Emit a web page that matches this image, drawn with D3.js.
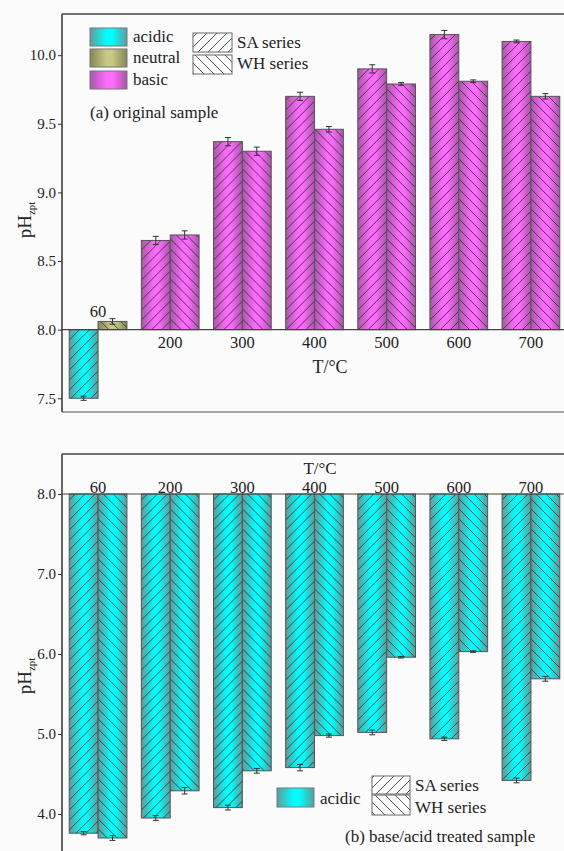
<!DOCTYPE html>
<html>
<head>
<meta charset="utf-8">
<script src="https://cdn.jsdelivr.net/npm/d3@7"></script>
<style>
  body { margin: 0; background: #fbfbfb; }
  svg { display: block; }
</style>
</head>
<body>
<div id="chart"></div>
<script>
const temps = ["60", "200", "300", "400", "500", "600", "700"];
const series = ["SA", "WH"];

// (a) original sample
const topSA = [7.50, 8.65, 9.37, 9.70, 9.90, 10.15, 10.10];
const topSAerr = [0.015, 0.03, 0.03, 0.03, 0.03, 0.03, 0.01];
const topWH = [8.06, 8.69, 9.30, 9.46, 9.79, 9.81, 9.70];
const topWHerr = [0.02, 0.03, 0.03, 0.02, 0.01, 0.01, 0.02];
const topSAkind = ["acidic", "basic", "basic", "basic", "basic", "basic", "basic"];
const topWHkind = ["neutral", "basic", "basic", "basic", "basic", "basic", "basic"];
const topTicks = [7.5, 8.0, 8.5, 9.0, 9.5, 10.0];

// (b) base/acid treated sample
const botSA = [3.76, 3.95, 4.08, 4.58, 5.02, 4.94, 4.42];
const botSAerr = [0.02, 0.03, 0.03, 0.04, 0.03, 0.02, 0.03];
const botWH = [3.70, 4.29, 4.54, 4.98, 5.96, 6.03, 5.69];
const botWHerr = [0.03, 0.04, 0.03, 0.02, 0.01, 0.01, 0.03];
const botTicks = [4.0, 5.0, 6.0, 7.0, 8.0];

const kinds = ["acidic", "neutral", "basic"];
const shades = {
  acidic:  {edge: "#5e9c9c", mid: "#00ffff"},
  neutral: {edge: "#85855a", mid: "#c9c985"},
  basic:   {edge: "#a957a9", mid: "#ff6bff"}
};

const W = 564, H = 851;
const svg = d3.select('#chart').append('svg')
  .attr('width', W).attr('height', H)
  .attr('font-family', '"Liberation Serif", "Times New Roman", serif');

const defs = svg.append('defs');
kinds.forEach(k => {
  const g = defs.append('linearGradient').attr('id', 'grad-' + k)
    .attr('x1', '0%').attr('x2', '100%').attr('y1', '0%').attr('y2', '0%');
  g.append('stop').attr('offset', '0%').attr('stop-color', shades[k].edge);
  g.append('stop').attr('offset', '45%').attr('stop-color', shades[k].mid);
  g.append('stop').attr('offset', '60%').attr('stop-color', shades[k].mid);
  g.append('stop').attr('offset', '100%').attr('stop-color', shades[k].edge);
});

// hatch patterns: SA = "/", WH = "\"
function hatch(id, forward) {
  const p = defs.append('pattern').attr('id', id)
    .attr('patternUnits', 'userSpaceOnUse')
    .attr('width', 10).attr('height', 10);
  const d = forward
    ? 'M0,10 L10,0 M-2,2 L2,-2 M8,12 L12,8'
    : 'M0,0 L10,10 M-2,8 L2,12 M8,-2 L12,2';
  p.append('path').attr('d', d)
    .attr('stroke', '#2a2a2a').attr('stroke-width', 0.8).attr('fill', 'none');
}
hatch('hatch-SA', true);
hatch('hatch-WH', false);

function drawPanel(cfg) {
  const x = d3.scaleBand().domain(temps).range([62, 567])
    .paddingInner(0.2).paddingOuter(0.1);
  const x1 = d3.scaleBand().domain(series).range([0, x.bandwidth()]);
  const y = d3.scaleLinear().domain(cfg.domain).range([cfg.bottom, cfg.top]);
  const base = y(8.0);

  const g = svg.append('g');

  // frame
  g.append('line').attr('x1', 62).attr('x2', W).attr('y1', cfg.top).attr('y2', cfg.top)
    .attr('stroke', '#444').attr('stroke-width', 1.5);
  if (cfg.frameBottom) {
    g.append('line').attr('x1', 62).attr('x2', W).attr('y1', cfg.bottom).attr('y2', cfg.bottom)
      .attr('stroke', '#888').attr('stroke-width', 1.5);
  }

  const rows = temps.map((t, i) => ({
    t, i,
    bars: [
      {s: 'SA', v: cfg.sa[i], e: cfg.saErr[i], k: cfg.saKind[i]},
      {s: 'WH', v: cfg.wh[i], e: cfg.whErr[i], k: cfg.whKind[i]}
    ]
  }));

  const grp = g.selectAll('g.grp').data(rows).enter().append('g')
    .attr('class', 'grp')
    .attr('transform', d => `translate(${x(d.t)},0)`);

  const bar = grp.selectAll('g.bar').data(d => d.bars).enter().append('g').attr('class', 'bar');
  const top = d => Math.min(y(d.v), base);
  const hgt = d => Math.abs(y(d.v) - base);
  bar.append('rect')
    .attr('x', d => x1(d.s)).attr('width', x1.bandwidth())
    .attr('y', top).attr('height', hgt)
    .attr('fill', d => `url(#grad-${d.k})`);
  bar.append('rect')
    .attr('x', d => x1(d.s)).attr('width', x1.bandwidth())
    .attr('y', top).attr('height', hgt)
    .attr('fill', d => `url(#hatch-${d.s})`)
    .attr('stroke', '#555').attr('stroke-width', 1);

  // error bars
  const eb = bar.append('g').attr('stroke', '#333').attr('stroke-width', 1);
  const cx = d => x1(d.s) + x1.bandwidth() / 2;
  eb.append('line').attr('x1', cx).attr('x2', cx)
    .attr('y1', d => y(d.v - d.e)).attr('y2', d => y(d.v + d.e));
  eb.append('line').attr('x1', d => cx(d) - 3).attr('x2', d => cx(d) + 3)
    .attr('y1', d => y(d.v - d.e)).attr('y2', d => y(d.v - d.e));
  eb.append('line').attr('x1', d => cx(d) - 3).attr('x2', d => cx(d) + 3)
    .attr('y1', d => y(d.v + d.e)).attr('y2', d => y(d.v + d.e));

  // baseline at pH 8.0
  g.append('line').attr('x1', 62).attr('x2', W).attr('y1', base).attr('y2', base)
    .attr('stroke', '#444').attr('stroke-width', 1.2);

  // category labels: above the group if one of its bars goes below pH 8
  const labelY = d => {
    if (!d.bars.some(b => b.v < 8)) return base + 18;
    const tops = d.bars.map(b => y(Math.max(b.v + b.e, 8)));
    return Math.min(...tops) - 1.5;
  };
  grp.append('text')
    .attr('x', x.bandwidth() / 2)
    .attr('y', labelY)
    .attr('text-anchor', 'middle').attr('font-size', 16.5).attr('fill', '#222')
    .text(d => d.t);

  // y axis
  const axis = g.append('g').attr('transform', 'translate(62,0)')
    .call(d3.axisLeft(y).tickValues(cfg.ticks).tickFormat(d3.format('.1f'))
      .tickSize(4).tickPadding(2));
  axis.select('.domain').attr('stroke', '#333').attr('stroke-width', 1.5)
    .attr('d', `M0,${cfg.top}V${Math.min(cfg.bottom, H)}`);
  axis.selectAll('.tick line').attr('stroke', '#333');
  axis.selectAll('.tick text').attr('font-size', 15).attr('fill', '#222')
    .attr('font-family', '"Liberation Serif", serif');

  // axis titles
  g.append('text').attr('x', cfg.tx).attr('y', cfg.ty)
    .attr('text-anchor', 'middle').attr('font-size', cfg.tsize).attr('fill', '#222')
    .text('T/°C');
  const yl = g.append('text')
    .attr('transform', `translate(31,${cfg.yly}) rotate(-90)`)
    .attr('text-anchor', 'middle').attr('font-size', 19).attr('fill', '#222');
  yl.append('tspan').text('pH');
  yl.append('tspan').attr('font-size', 11).attr('dy', 4).text('zpt');

  return g;
}

function colorSwatch(g, k, x, y0, w, h) {
  g.append('rect').attr('x', x).attr('y', y0).attr('width', w).attr('height', h)
    .attr('fill', `url(#grad-${k})`).attr('stroke', '#777').attr('stroke-width', 1);
}
function hatchSwatch(g, s, x, y0, w, h) {
  g.append('rect').attr('x', x).attr('y', y0).attr('width', w).attr('height', h)
    .attr('fill', '#fff');
  g.append('rect').attr('x', x).attr('y', y0).attr('width', w).attr('height', h)
    .attr('fill', `url(#hatch-${s})`).attr('stroke', '#666').attr('stroke-width', 1);
}
function label(g, x, y0, txt, size) {
  g.append('text').attr('x', x).attr('y', y0).attr('font-size', size || 17)
    .attr('fill', '#222').text(txt);
}

// panel (a)
const pa = drawPanel({
  domain: [7.4, 10.3], top: 14, bottom: 412, frameBottom: true,
  sa: topSA, saErr: topSAerr, wh: topWH, whErr: topWHerr,
  saKind: topSAkind, whKind: topWHkind, ticks: topTicks,
  tx: 330, ty: 373, tsize: 18, yly: 220
});
colorSwatch(pa, 'acidic', 90, 28, 37, 18);
colorSwatch(pa, 'neutral', 90, 49, 37, 18);
colorSwatch(pa, 'basic', 90, 71, 37, 18);
label(pa, 133, 42, 'acidic');
label(pa, 133, 63, 'neutral');
label(pa, 133, 85, 'basic');
hatchSwatch(pa, 'SA', 193, 33, 39, 19);
hatchSwatch(pa, 'WH', 193, 55, 39, 19);
label(pa, 237, 48, 'SA series');
label(pa, 237, 69, 'WH series');
label(pa, 90, 118, '(a) original sample');

// panel (b)
const pb = drawPanel({
  domain: [3.5, 8.5], top: 454, bottom: 854, frameBottom: false,
  sa: botSA, saErr: botSAerr, wh: botWH, whErr: botWHerr,
  saKind: temps.map(() => 'acidic'), whKind: temps.map(() => 'acidic'),
  ticks: botTicks, tx: 320, ty: 474, tsize: 17, yly: 676
});
colorSwatch(pb, 'acidic', 277, 788, 37, 19);
label(pb, 320, 804, 'acidic');
hatchSwatch(pb, 'SA', 372, 776, 38, 18);
hatchSwatch(pb, 'WH', 372, 795, 38, 20);
label(pb, 415, 791, 'SA series');
label(pb, 415, 813, 'WH series');
label(pb, 345, 842, '(b) base/acid treated sample');
</script>
</body>
</html>
